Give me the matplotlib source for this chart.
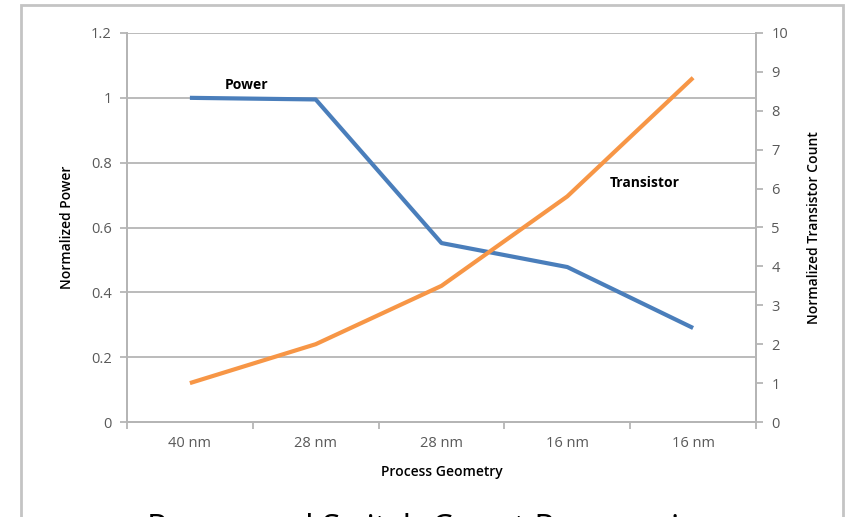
import numpy as np
import matplotlib.pyplot as plt
from matplotlib.patches import Rectangle

# data
geometry = ["40 nm", "28 nm", "28 nm", "16 nm", "16 nm"]
power = [1.0, 0.995, 0.552, 0.478, 0.29]
transistor = [1.0, 2.0, 3.5, 5.8, 8.85]

plt.rcParams['font.family'] = ['Open Sans', 'DejaVu Sans']
grey = '#595959'
gridc = '#b5b5b5'

fig = plt.figure(figsize=(8.66, 5.17), dpi=100)
ax = fig.add_axes([127/866, 95/517, 629/866, 389/517])
ax2 = ax.twinx()

x = np.arange(len(geometry))
ax.plot(x, power, color='#4a7ebb', lw=3, solid_capstyle='butt')
ax2.plot(x, transistor, color='#f79646', lw=3, solid_capstyle='butt')

ax.set_xlim(-0.5, len(geometry) - 0.5)
ax.set_ylim(0, 1.2)
ax2.set_ylim(0, 10)
ax.set_yticks(np.arange(0, 1.21, 0.2))
ax.set_yticklabels(["0", "0.2", "0.4", "0.6", "0.8", "1", "1.2"])
ax2.set_yticks(range(0, 11))
ax.yaxis.grid(True, color=gridc, lw=1.3)
ax.set_axisbelow(True)

# category ticks sit between the categories
ax.set_xticks(np.arange(-0.5, len(geometry)))
ax.set_xticklabels([])
ax.set_xticks(x, minor=True)
ax.set_xticklabels(geometry, minor=True)
ax.tick_params(axis='x', which='minor', length=0, pad=10, labelsize=10.5, labelcolor=grey)
ax.tick_params(axis='x', which='major', length=5, color=gridc, width=1.3)
ax.tick_params(axis='y', length=5, color=gridc, width=1.3, labelsize=10.5, labelcolor=grey, pad=6)
ax2.tick_params(axis='y', length=5, color=gridc, width=1.3, labelsize=10.5, labelcolor=grey, pad=6)

for a in (ax, ax2):
    for s in a.spines.values():
        s.set_color(gridc)
        s.set_linewidth(1.3)
    a.spines['top'].set_visible(False)

ax.set_ylabel("Normalized Power", fontsize=10, fontweight='semibold', labelpad=12)
ax2.set_ylabel("Normalized Transistor Count", fontsize=10, fontweight='semibold', labelpad=14)
ax.set_xlabel("Process Geometry", fontsize=10, fontweight='semibold', labelpad=10)

fig.text(247/866, 1 - 85/517, "Power", fontsize=10, fontweight='bold',
         ha='center', va='center')
fig.text(645/866, 1 - 183/517, "Transistor", fontsize=10, fontweight='bold',
         ha='center', va='center')

# slide title, cut off by the bottom edge
fig.text(0.5, 1 - 529/517, "Power and Switch Count Progression", fontsize=24,
         ha='center', va='center')

fig.patches.append(Rectangle((21/866, -0.02), 822/866, 1.01, transform=fig.transFigure,
                             fill=False, edgecolor='#c4c4c4', lw=2))

fig.savefig("out.png", dpi=100)
